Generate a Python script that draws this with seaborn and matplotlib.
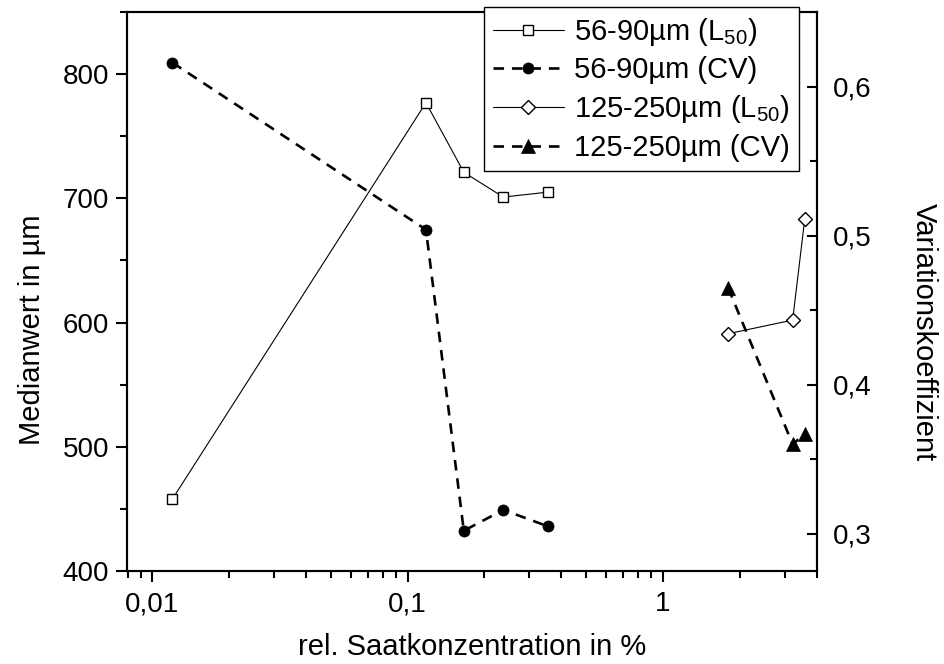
import matplotlib
matplotlib.use("Agg")
import matplotlib.pyplot as plt
import seaborn as sns
import pandas as pd
from matplotlib.ticker import FixedLocator, MultipleLocator, NullFormatter, LogLocator

# rel. Saatkonzentration (%) and measured values per size fraction
conc_56_90 = [0.012, 0.118, 0.166, 0.237, 0.354]
l50_56_90 = [458, 777, 721, 701, 705]
cv_56_90 = [0.616, 0.504, 0.302, 0.316, 0.305]

conc_125_250 = [1.8, 3.22, 3.59]
l50_125_250 = [591, 602, 683]
cv_125_250 = [0.465, 0.360, 0.367]

series_labels = ["56-90µm (L$_{50}$)", "56-90µm (CV)",
                 "125-250µm (L$_{50}$)", "125-250µm (CV)"]

x_ticks = [0.01, 0.1, 1]
x_ticklabels = ["0,01", "0,1", "1"]
left_ticks = [400, 500, 600, 700, 800]
right_ticks = [0.3, 0.4, 0.5, 0.6]
right_ticklabels = ["0,3", "0,4", "0,5", "0,6"]

sns.set_theme(style="ticks")
plt.rcParams["font.family"] = ["Liberation Sans", "DejaVu Sans"]
plt.rcParams["mathtext.default"] = "regular"
plt.rcParams["axes.linewidth"] = 1.5
for key in ("text.color", "axes.labelcolor", "xtick.color", "ytick.color",
            "axes.edgecolor"):
    plt.rcParams[key] = "black"

FS_TICK = 20
FS_LABEL = 21
FS_LEG = 21

fig = plt.figure(figsize=(9.45, 6.64), dpi=100)
W, H = 945, 664
x0, x1, y0, y1 = 127.5, 816.7, 12, 571
ax = fig.add_axes([x0 / W, 1 - y1 / H, (x1 - x0) / W, (y1 - y0) / H])
ax2 = ax.twinx()

df_a = pd.DataFrame({"conc": conc_56_90, "l50": l50_56_90, "cv": cv_56_90})
df_b = pd.DataFrame({"conc": conc_125_250, "l50": l50_125_250, "cv": cv_125_250})

solid = dict(color="black", linewidth=0.8, markeredgecolor="black",
             markerfacecolor="white", markeredgewidth=1.0)
dashed = dict(color="black", linewidth=1.9, markeredgecolor="black",
              markerfacecolor="black", markeredgewidth=0.5,
              linestyle=(0, (4.0, 3.0)))

sns.lineplot(data=df_a, x="conc", y="l50", ax=ax, marker="s", markersize=6.5,
             legend=False, **solid)
sns.lineplot(data=df_b, x="conc", y="l50", ax=ax, marker="D", markersize=7.3,
             legend=False, **solid)
sns.lineplot(data=df_a, x="conc", y="cv", ax=ax2, marker="o", markersize=8,
             legend=False, **dashed)
sns.lineplot(data=df_b, x="conc", y="cv", ax=ax2, marker="^", markersize=10,
             legend=False, **dashed)

ax.set_xscale("log")
ax.set_xlim(0.008, 4)
ax.set_ylim(400, 850)
ax2.set_ylim(0.275, 0.65)

ax.xaxis.set_major_locator(FixedLocator(x_ticks))
ax.set_xticklabels(x_ticklabels)
ax.xaxis.set_minor_locator(LogLocator(base=10, subs=range(2, 10)))
ax.xaxis.set_minor_formatter(NullFormatter())

ax.yaxis.set_major_locator(FixedLocator(left_ticks))
ax.set_yticklabels([str(v) for v in left_ticks])
ax.yaxis.set_minor_locator(MultipleLocator(50))

ax2.yaxis.set_major_locator(FixedLocator(right_ticks))
ax2.set_yticklabels(right_ticklabels)
ax2.yaxis.set_minor_locator(MultipleLocator(0.05))

for a in (ax, ax2):
    for s in a.spines.values():
        s.set_linewidth(1.5)
        s.set_color("black")

ax.tick_params(axis="both", which="major", direction="out", length=8.2,
               width=1.5, labelsize=FS_TICK, colors="black",
               top=False, right=False)
ax.tick_params(axis="x", which="major", pad=6.5)
ax.tick_params(axis="y", which="major", pad=5)
ax.tick_params(axis="both", which="minor", direction="out", length=5,
               width=1.5, top=False, right=False, colors="black")
ax2.tick_params(axis="y", which="major", direction="in", length=7.2,
                width=1.5, labelsize=FS_TICK, pad=12, colors="black")
ax2.tick_params(axis="y", which="minor", direction="in", length=4.7,
                width=1.5, colors="black")

ax.set_xlabel("rel. Saatkonzentration in %", fontsize=FS_LABEL, labelpad=11,
              color="black")

ax.set_ylabel("Medianwert in µm", fontsize=FS_LABEL, color="black")
ax.yaxis.label.set_verticalalignment("center")
ax.yaxis.label.set_horizontalalignment("center")
ax.yaxis.set_label_coords((32 - x0) / (x1 - x0), (y1 - 330) / (y1 - y0))

ax2.set_ylabel("Variationskoeffizient", fontsize=FS_LABEL, rotation=270,
               color="black")
ax2.yaxis.label.set_verticalalignment("center")
ax2.yaxis.label.set_horizontalalignment("center")
ax2.yaxis.set_label_coords((924 - x0) / (x1 - x0), (y1 - 332) / (y1 - y0))

handles = ax.lines[:1] + ax2.lines[:1] + ax.lines[1:2] + ax2.lines[1:2]
leg = fig.legend(handles, series_labels, loc="upper left",
                 bbox_to_anchor=(484 / W, 1 - 7 / H),
                 bbox_transform=fig.transFigure, fontsize=FS_LEG,
                 frameon=True, fancybox=False, framealpha=1,
                 edgecolor="black", borderpad=0.3, labelspacing=0.3,
                 handlelength=2.45, handletextpad=0.35, borderaxespad=0,
                 labelcolor="black")
leg.get_frame().set_linewidth(1.0)

fig.savefig("out.png", dpi=100)
